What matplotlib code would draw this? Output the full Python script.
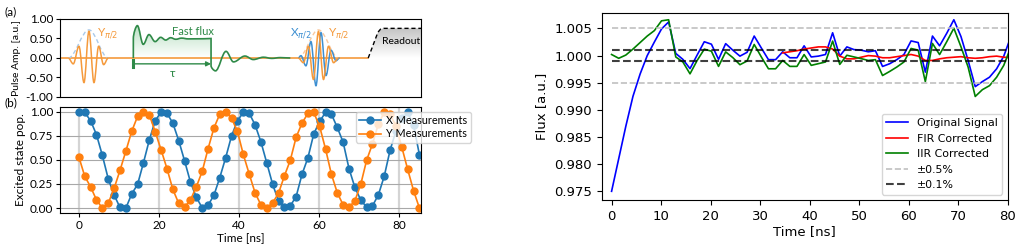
import numpy as np
import matplotlib.pyplot as plt
from matplotlib.path import Path
from matplotlib.patches import PathPatch
from matplotlib.colors import LinearSegmentedColormap
from matplotlib.ticker import FormatStrFormatter

# -----------------------------
# (a) pulse sequence sketch: extrema (t in ns, amp in a.u.)
# -----------------------------
y1_t = [-2.43, -1.3, 0.0, 1.14, 2.27, 3.41, 4.47, 5.6, 6.66]
y1_v = [0.0, -0.15, 0.30, -0.63, 0.69, -0.63, 0.30, -0.17, 0.0]
env1_t = [-2.43, 2.27, 6.66]
env1_v = [0.0, 0.72, 0.0]

flux_t = [12.35, 12.35, 13.26, 14.6, 15.9, 17.3, 18.56, 19.7, 20.8, 22.0, 23.3, 24.8,
          30.0, 30.0, 31.0, 33.4, 35.1, 37.7, 39.6, 41.9, 43.8, 45.7, 48.0]
flux_v = [0.0, 0.5, 0.83, 0.35, 0.60, 0.42, 0.53, 0.46, 0.52, 0.48, 0.51, 0.49,
          0.50, -0.2, -0.33, 0.17, -0.10, 0.05, -0.04, 0.02, -0.01, 0.01, 0.0]
flux_on = 13  # nodes belonging to the flat-top part

x2_t = [49.8, 50.41, 51.55, 52.69, 53.83, 54.97, 56.11, 57.25, 58.39, 59.2]
x2_v = [0.0, 0.06, -0.2, 0.42, -0.71, 0.65, -0.45, 0.2, -0.07, 0.0]
y2_t = [49.8, 50.98, 52.12, 53.26, 54.4, 55.54, 56.68, 57.82, 58.96]
y2_v = [0.0, -0.12, 0.30, -0.55, 0.68, -0.55, 0.30, -0.12, 0.0]
env2_t = [49.8, 54.4, 59.0]
env2_v = [0.0, 0.72, 0.0]

readout_t = [65.7, 67.9, 68.5, 69.2, 80.0]
readout_v = [0.0, 0.66, 0.74, 0.76, 0.76]

# -----------------------------
# (b) Ramsey-type measurements
# -----------------------------
t_meas = np.linspace(0, 85, 59)
x_meas = [1.0, 0.99, 0.905, 0.76, 0.546, 0.304, 0.137, 0.007, 0.0, 0.147,
          0.246, 0.47, 0.706, 0.905, 0.993, 0.983, 0.88, 0.70, 0.49, 0.27,
          0.113, 0.003, 0.031, 0.133, 0.317, 0.522, 0.747, 0.904, 0.99, 0.983,
          0.863, 0.686, 0.468, 0.246, 0.075, 0.017, 0.024, 0.12, 0.35, 0.52,
          0.768, 0.898, 0.99, 0.973, 0.836, 0.683, 0.41, 0.215, 0.085, 0.01,
          0.024, 0.137, 0.33, 0.6, 0.8, 0.93, 0.99, 0.86, 0.55]
y_meas = [0.53, 0.33, 0.22, 0.085, 0.0, 0.05, 0.205, 0.39, 0.59, 0.795,
          0.95, 0.997, 0.966, 0.79, 0.604, 0.41, 0.195, 0.05, 0.01, 0.085,
          0.22, 0.38, 0.614, 0.83, 0.973, 1.0, 0.93, 0.795, 0.556, 0.355,
          0.16, 0.034, 0.0, 0.055, 0.154, 0.334, 0.495, 0.734, 0.88, 0.98,
          0.99, 0.846, 0.614, 0.352, 0.16, 0.034, 0.01, 0.075, 0.246, 0.495,
          0.665, 0.87, 0.99, 0.97, 0.85, 0.63, 0.40, 0.18, 0.0]

# -----------------------------
# right: flux step response
# -----------------------------
t_flux = np.arange(57) * 1.44
original = [0.975, 0.9810, 0.9870, 0.9925, 0.9966, 1.0000, 1.0025, 1.0049, 1.0062, 1.0004,
            0.9993, 0.9976, 1.0001, 1.00255, 1.0021, 0.9993, 1.0022, 1.0010, 0.9999, 1.0006,
            1.0036, 1.0014, 0.99925, 0.99925, 1.0007, 0.9996, 0.9996, 1.0018, 0.99975, 0.9999,
            1.0002, 1.0042, 0.9999, 1.0016, 1.0011, 1.0010, 1.0007, 1.0009, 0.9980, 0.9985,
            0.99925, 1.0002, 1.0027, 1.0024, 0.99695, 1.0036, 1.0018, 1.0041, 1.0066, 1.0035,
            0.9991, 0.99428, 0.99521, 0.99602, 0.99757, 0.9999, 1.0035]
iir = [1.0002, 0.9995, 1.0001, 1.0012, 1.0024, 1.0036, 1.0046, 1.0064, 1.0066, 0.99975,
       0.99882, 0.99664, 0.9991, 1.00118, 1.00081, 0.99801, 1.00068, 0.99963, 0.99832, 0.9990,
       1.00205, 0.99975, 0.99757, 0.99757, 0.9991, 0.99801, 0.99801, 1.00019, 0.9982, 0.99851,
       0.99882, 1.00267, 0.99838, 1.00006, 0.99975, 0.99944, 0.9991, 0.99925, 0.99633, 0.99708,
       0.99789, 0.99882, 1.00131, 1.0010, 0.99521, 1.00224, 1.00019, 1.00255, 1.00504, 1.00162,
       0.99789, 0.99247, 0.99372, 0.99446, 0.99602, 0.9982, 1.0016]
fir_start = 24
fir = [1.0005, 1.0007, 1.0009, 1.0012, 1.0014, 1.0016, 1.0016, 1.0012, 0.9999, 0.9994,
       0.9994, 0.9997, 1.0000, 0.9999, 0.9996, 0.9996, 0.9998, 1.0000, 1.0002, 0.9999,
       0.9991, 0.9991, 0.9994, 0.9996, 0.9997, 0.9998, 0.9996, 0.9995, 0.9996, 0.9998,
       0.9999, 0.9997, 0.9996]
tol_wide = 0.005
tol_narrow = 0.001

ORANGE = '#f59a3c'
BLUE = '#3d8fd1'
GREEN = '#2f8a48'
LEFT_FONT = ['Lato', 'DejaVu Sans']
FS = 8.5


def smooth(xs, ys, c=0.36):
    # cubic pieces with flat tangents at every extremum
    verts = [(xs[0], ys[0])]
    codes = [Path.MOVETO]
    for i in range(1, len(xs)):
        x0, y0, x1, y1 = xs[i-1], ys[i-1], xs[i], ys[i]
        dx, dy = x1 - x0, y1 - y0
        if dx == 0:
            verts.append((x1, y1))
            codes.append(Path.LINETO)
            continue
        p1 = (x0, y0 + c*dy) if (i > 1 and xs[i-2] == x0) else (x0 + c*dx, y0)
        p2 = (x1, y1 - c*dy) if (i < len(xs)-1 and xs[i+1] == x1) else (x1 - c*dx, y1)
        verts += [p1, p2, (x1, y1)]
        codes += [Path.CURVE4] * 3
    return verts, codes


def draw_curve(ax, xs, ys, **kw):
    v, c = smooth(xs, ys)
    ax.add_patch(PathPatch(Path(v, c), fill=False, **kw))


def gradient_under(ax, verts, codes, color, zorder=1):
    clip = PathPatch(Path(verts, codes), facecolor='none', edgecolor='none')
    ax.add_patch(clip)
    xs = [p[0] for p in verts]
    ys = [p[1] for p in verts]
    cmap = LinearSegmentedColormap.from_list('grad', ['white', color])
    im = ax.imshow(np.linspace(1, 0, 100).reshape(-1, 1), cmap=cmap, aspect='auto',
                   extent=(min(xs), max(xs), min(ys), max(ys)), origin='upper',
                   zorder=zorder)
    im.set_clip_path(clip)


fig = plt.figure(figsize=(10.21, 2.47), dpi=100)
ax_a = fig.add_axes([0.0588, 0.6073, 0.3536, 0.3158])
ax_b = fig.add_axes([0.0588, 0.1377, 0.3536, 0.4304])
ax_r = fig.add_axes([0.5893, 0.1903, 0.3977, 0.7583])

# -----------------------------
# (b)
# -----------------------------
ax_b.plot(t_meas, x_meas, 'o-', color='#1f77b4', ms=5, lw=1.2, label='X Measurements')
ax_b.plot(t_meas, y_meas, 'o-', color='#ff7f0e', ms=5, lw=1.2, label='Y Measurements')
ax_b.set_xlim(-4.7, 85.4)
ax_b.set_xticks([0, 20, 40, 60, 80])
ax_b.set_yticks([0, 0.25, 0.5, 0.75, 1.0])
ax_b.yaxis.set_major_formatter(FormatStrFormatter('%.2f'))
ax_b.grid(axis='y', color='#a8a8a8', lw=0.8)
ax_b.grid(axis='x', color='#d4d4d4', lw=1.6)
ax_b.set_axisbelow(True)
ax_b.set_xlabel('Time [ns]', family=LEFT_FONT, fontsize=FS, labelpad=1)
ax_b.set_ylabel('Excited state pop.', family=LEFT_FONT, fontsize=FS, labelpad=3)
ax_b.tick_params(labelsize=FS, pad=2, length=3)
for lab in ax_b.get_xticklabels() + ax_b.get_yticklabels():
    lab.set_family(LEFT_FONT)
ax_b.legend(loc='upper left', bbox_to_anchor=(0.82, 0.95), prop={'family': LEFT_FONT, 'size': 7.8},
            borderaxespad=0.0, handlelength=2.0, labelspacing=0.2, borderpad=0.3,
            handletextpad=0.5)

# -----------------------------
# (a)
# -----------------------------
a_lo, a_hi = -4.3, 77.7
ax_a.plot([a_lo, readout_t[0]], [0, 0], color=ORANGE, lw=1.2, zorder=2)

draw_curve(ax_a, env1_t, env1_v, edgecolor='#a9c9ea', lw=1.0, ls=(0, (3, 2)), zorder=3)
draw_curve(ax_a, y1_t, y1_v, edgecolor=ORANGE, lw=1.1, zorder=4)

fv, fc = smooth(flux_t[:flux_on], flux_v[:flux_on])
fv = fv + [(flux_t[flux_on - 1], 0.0), (flux_t[0], 0.0)]
fc = fc + [Path.LINETO, Path.CLOSEPOLY]
gradient_under(ax_a, fv, fc, '#b9e0c3', zorder=1)
draw_curve(ax_a, flux_t, flux_v, edgecolor=GREEN, lw=1.2, zorder=5)

tau_y = -0.15
ax_a.annotate('', xy=(flux_t[flux_on - 1], tau_y), xytext=(flux_t[0], tau_y),
              arrowprops=dict(arrowstyle='-|>', color=GREEN, lw=1.0, mutation_scale=7,
                              shrinkA=0, shrinkB=0), zorder=5)
ax_a.plot([flux_t[0], flux_t[0]], [tau_y + 0.09, tau_y - 0.09], color=GREEN, lw=2.2, zorder=5)
ax_a.text(21.2, tau_y - 0.24, 'τ', color=GREEN, fontsize=8.5, ha='center', va='center',
          family=LEFT_FONT)
ax_a.text(25.9, 0.67, 'Fast flux', color=GREEN, fontsize=8, ha='center', va='center',
          family=LEFT_FONT)

draw_curve(ax_a, env2_t, env2_v, edgecolor='#f9c9a0', lw=1.0, ls=(0, (3, 2)), zorder=3)
draw_curve(ax_a, x2_t, x2_v, edgecolor=BLUE, lw=1.1, zorder=4)
draw_curve(ax_a, y2_t, y2_v, edgecolor=ORANGE, lw=1.1, zorder=4)

ax_a.text(4.0, 0.64, r'Y$_{\pi/2}$', color=ORANGE, fontsize=8.5, va='center', family=LEFT_FONT)
ax_a.text(48.0, 0.64, r'X$_{\pi/2}$', color=BLUE, fontsize=8.5, va='center', family=LEFT_FONT)
ax_a.text(56.6, 0.64, r'Y$_{\pi/2}$', color=ORANGE, fontsize=8.5, va='center', family=LEFT_FONT)

rv = list(zip(readout_t, readout_v)) + [(readout_t[-1], 0.0), (readout_t[0], 0.0)]
rc = [Path.MOVETO] + [Path.LINETO] * (len(readout_t) - 1) + [Path.LINETO, Path.CLOSEPOLY]
gradient_under(ax_a, rv, rc, '#c4c4c4', zorder=1)
ax_a.plot(readout_t, readout_v, color='black', lw=1.0, ls=(0, (3, 2)), zorder=4)
ax_a.text(68.9, 0.42, 'Readout', color='black', fontsize=7.5, va='center', family=LEFT_FONT)

ax_a.set_xlim(a_lo, a_hi)
ax_a.set_ylim(-1, 1)
ax_a.set_xticks([])
ax_a.set_yticks([-1, -0.5, 0, 0.5, 1])
ax_a.yaxis.set_major_formatter(FormatStrFormatter('%.2f'))
ax_a.tick_params(labelsize=FS, pad=2, length=3)
for lab in ax_a.get_yticklabels():
    lab.set_family(LEFT_FONT)
ax_a.set_ylabel('Pulse Amp. [a.u.]', family=LEFT_FONT, fontsize=7.5, labelpad=3)

fig.text(0.004, 1 - 11.7/247, '(a)', fontsize=FS, va='center', family=LEFT_FONT)
fig.text(0.004, 1 - 103/247, '(b)', fontsize=FS, va='center', family=LEFT_FONT)

# -----------------------------
# right panel
# -----------------------------
ax_r.plot(t_flux, original, color='blue', lw=1.2, label='Original Signal')
ax_r.plot(t_flux[fir_start:], fir, color='red', lw=1.2, label='FIR Corrected')
ax_r.plot(t_flux, iir, color='green', lw=1.2, label='IIR Corrected')
ax_r.hlines([1 + tol_wide, 1 - tol_wide], 0, 80, colors='#c0c0c0', linestyles='--',
            lw=1.2, label='±0.5%')
ax_r.hlines([1 + tol_narrow, 1 - tol_narrow], 0, 80, colors='black', linestyles='--',
            lw=1.5, alpha=0.75, label='±0.1%')
ax_r.set_xlim(-2, 80)
ax_r.set_ylim(0.9734, 1.0079)
ax_r.set_xticks(np.arange(0, 81, 10))
ax_r.set_yticks([0.975, 0.980, 0.985, 0.990, 0.995, 1.000, 1.005])
ax_r.yaxis.set_major_formatter(FormatStrFormatter('%.3f'))
ax_r.tick_params(labelsize=9.5)
ax_r.set_xlabel('Time [ns]', fontsize=9.5, labelpad=2)
ax_r.set_ylabel('Flux [a.u.]', fontsize=9.5)
ax_r.legend(loc='lower right', fontsize=7.9)

fig.savefig('out.png', dpi=100)
